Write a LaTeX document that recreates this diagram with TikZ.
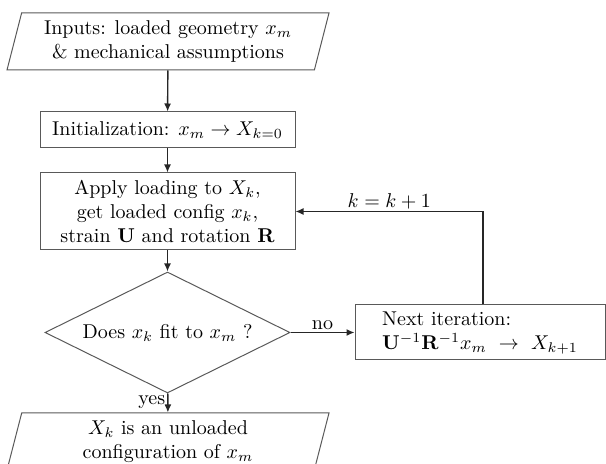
\documentclass[tikz,border=0pt]{standalone}
\usetikzlibrary{shapes.geometric,arrows.meta,calc}
\begin{document}
\begin{tikzpicture}[x=0.5pt,y=-0.5pt,
  shapeline/.style={draw=black!65,line width=0.5pt},
  procbox/.style={shapeline,rectangle,inner sep=0pt,align=center},
  iobox/.style={shapeline,trapezium,trapezium left angle=70.7,trapezium right angle=109.3,
     trapezium stretches body,inner sep=0pt,align=center},
  decbox/.style={shapeline,diamond,aspect=2.02,inner sep=0pt,align=center},
  flow/.style={draw=black!85,line width=0.7pt,-{Latex[length=4pt,width=3.5pt]}},
  lbl/.style={inner sep=1pt}]
\useasboundingbox (0,0) rectangle (606,464);
\node[iobox,minimum width=161pt,minimum height=28.5pt] (in) at (168,41.5)
  {Inputs: loaded geometry $x_m$\\ \& mechanical assumptions};
\node[procbox,minimum width=127.5pt,minimum height=18pt] (init) at (167.5,130)
  {Initialization: $x_m \rightarrow X_{k=0}$};
\node[procbox,minimum width=127.5pt,minimum height=38.5pt] (apply) at (167.5,211.5)
  {Apply loading to $X_k$,\\ get loaded config $x_k$,\\ strain $\mathbf{U}$ and rotation $\mathbf{R}$};
\node[decbox,minimum width=122.5pt,minimum height=60.5pt] (test) at (167.5,332.5)
  {Does $x_k$ fit to $x_m$ ?};
\node[procbox,minimum width=125pt,minimum height=27.5pt] (next) at (480,332.5)
  {\begin{tabular}{@{}l@{}}Next iteration:\\ $\mathbf{U}^{-1}\mathbf{R}^{-1}x_m\ \rightarrow\ X_{k+1}$\end{tabular}};
\node[iobox,minimum width=161pt,minimum height=28.5pt] (out) at (168,441.5)
  {$X_k$ is an unloaded\\ configuration of $x_m$};
\draw[flow] (in) -- (init);
\draw[flow] (init) -- (apply);
\draw[flow] (apply) -- (test);
\draw[flow] (test) -- node[lbl,left,pos=0.45] {yes} (out);
\draw[flow] (test) -- node[lbl,above] {no} (next);
\coordinate (turn) at ($(next.north)+(3,0)$);
\draw[flow] (turn) |- node[lbl,above,pos=0.75] {$k=k+1$} (apply.east);
\end{tikzpicture}
\end{document}
